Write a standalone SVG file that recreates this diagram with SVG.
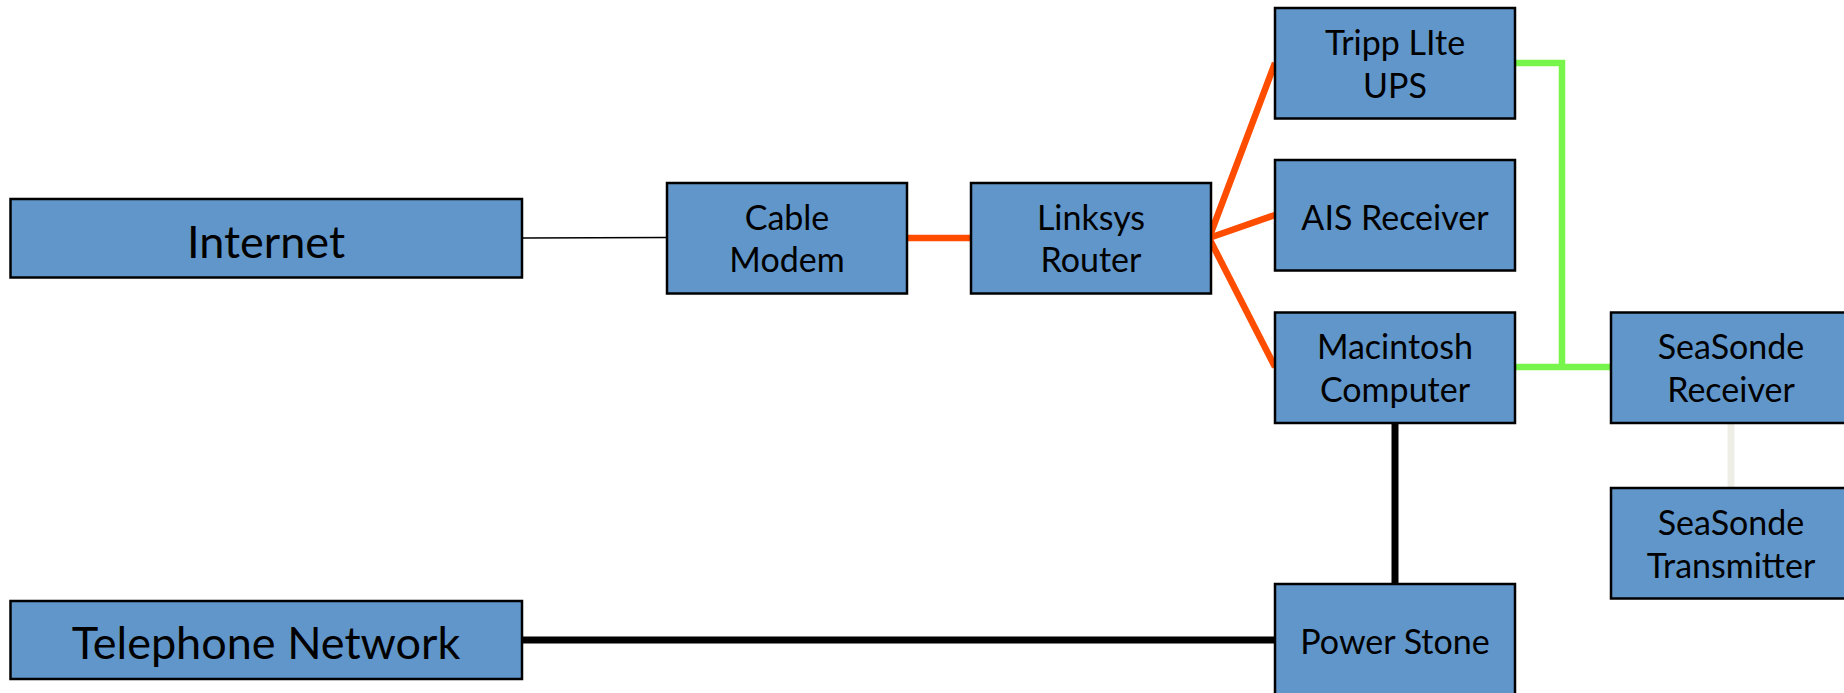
<svg xmlns="http://www.w3.org/2000/svg" width="1844" height="693" viewBox="0 0 1844 693">
<style>
.box{fill:#6096c9;stroke:#000;stroke-width:2.5}
.t{font-family:Lato,"Open Sans","Liberation Sans",sans-serif;font-size:34px;fill:#000;text-anchor:middle}
.tb{font-size:45px}
.or{stroke:#ff4d00;stroke-width:6.5;fill:none}
.gr{stroke:#77f54a;stroke-width:6.5;fill:none}
.bk{stroke:#000;stroke-width:7;fill:none}
</style>
<rect width="1844" height="693" fill="#fff"/>
<g id="connectors">
<line x1="522" y1="238" x2="667" y2="237.5" stroke="#000" stroke-width="1.5"/>
<line class="or" x1="907" y1="238" x2="971" y2="238"/>
<polyline class="or" points="1275,63 1209,238 1275,215"/>
<line class="or" x1="1209" y1="238" x2="1275" y2="367"/>
<polyline class="gr" points="1515,63 1562,63 1562,367"/>
<line class="gr" x1="1515" y1="367" x2="1611" y2="367"/>
<line class="bk" x1="1395" y1="423" x2="1395" y2="584"/>
<line class="bk" x1="522" y1="640" x2="1275" y2="640"/>
<line x1="1731" y1="423" x2="1731" y2="488" stroke="#eeeee6" stroke-width="7"/>
</g>
<g id="internet"><rect class="box" x="10.5" y="199" width="511.5" height="78.5"/><text class="t tb" x="266" y="258">Internet</text></g>
<g id="telephone-network"><rect class="box" x="10.5" y="601" width="511.5" height="78"/><text class="t tb" x="266" y="659">Telephone Network</text></g>
<g id="cable-modem"><rect class="box" x="667" y="183" width="240" height="110.5"/><text class="t" x="787" y="230">Cable</text><text class="t" x="787" y="272">Modem</text></g>
<g id="linksys-router"><rect class="box" x="971" y="183" width="240" height="110.5"/><text class="t" x="1091" y="230">Linksys</text><text class="t" x="1091" y="272">Router</text></g>
<g id="tripp-lite-ups"><rect class="box" x="1275" y="8" width="240" height="110.5"/><text class="t" x="1395" y="55">Tripp LIte</text><text class="t" x="1395" y="98">UPS</text></g>
<g id="ais-receiver"><rect class="box" x="1275" y="160" width="240" height="110.5"/><text class="t" x="1395" y="230">AIS Receiver</text></g>
<g id="macintosh-computer"><rect class="box" x="1275" y="312.5" width="240" height="110.5"/><text class="t" x="1395" y="359">Macintosh</text><text class="t" x="1395" y="402">Computer</text></g>
<g id="power-stone"><rect class="box" x="1275" y="584" width="240" height="112"/><text class="t" x="1395" y="654">Power Stone</text></g>
<g id="seasonde-receiver"><rect class="box" x="1611" y="312.5" width="240" height="110.5"/><text class="t" x="1731" y="359">SeaSonde</text><text class="t" x="1731" y="402">Receiver</text></g>
<g id="seasonde-transmitter"><rect class="box" x="1611" y="488" width="240" height="110.5"/><text class="t" x="1731" y="535">SeaSonde</text><text class="t" x="1731" y="578">Transmitter</text></g>
</svg>
